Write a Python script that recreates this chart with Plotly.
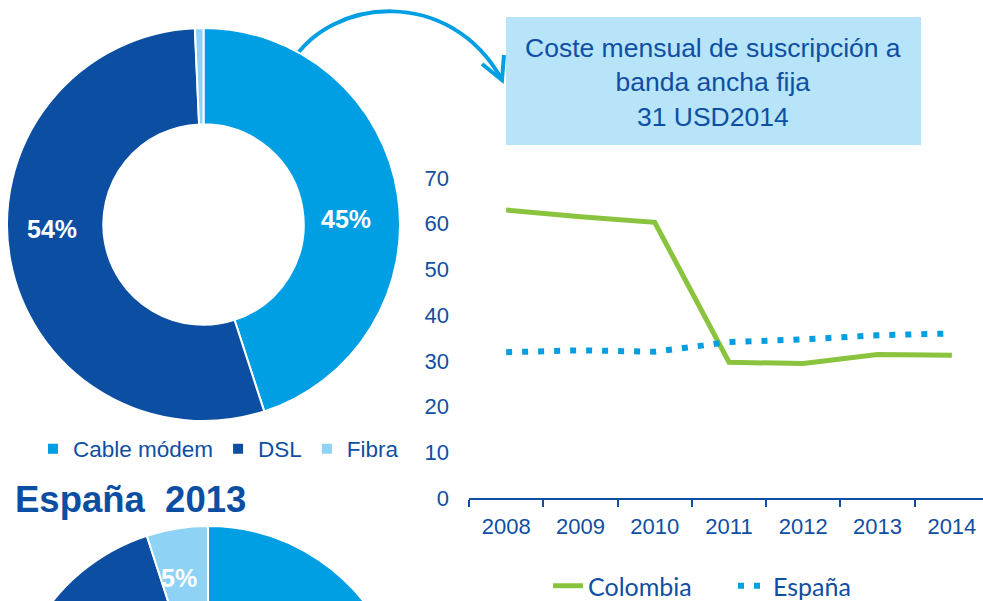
import plotly.graph_objects as go

# ---------------- data ----------------
donut_labels = ["Cable módem", "DSL", "Fibra"]
colombia_share = [45.0, 54.3, 0.7]
espana_share = [19.0, 76.0, 5.0]

years = ["2008", "2009", "2010", "2011", "2012", "2013", "2014"]
colombia_cost = [63.0, 61.5, 60.3, 29.7, 29.4, 31.4, 31.2]
espana_cost = [31.9, 32.3, 32.0, 34.1, 34.7, 35.6, 36.0]
y_ticks = [0, 10, 20, 30, 40, 50, 60, 70]

box_lines = ["Coste mensual de suscripción a", "banda ancha fija", "31 USD2014"]
spain_title = "España\u00a0 2013"

# ---------------- styles ----------------
W, H = 983, 930          # canvas; the window shows the top 601 px
slice_colors = ["#009FE3", "#0B4EA2", "#8ED3F5"]
dark = "#0F4FA3"
green = "#8AC43F"
blue = "#009FE3"
box_fill = "#B7E4F8"


def fx(px):
    return px / W


def fy(py):
    return 1 - py / H


fig = go.Figure()

# Colombia donut
fig.add_trace(go.Pie(
    labels=donut_labels, values=colombia_share, hole=0.51,
    sort=False, direction="clockwise", rotation=0,
    marker=dict(colors=slice_colors, line=dict(color="white", width=2)),
    textinfo="none", hoverinfo="label+percent",
    domain=dict(x=[fx(7), fx(400)], y=[fy(421), fy(28)]),
    legend="legend",
))

# España donut (mostly below the visible window)
fig.add_trace(go.Pie(
    labels=donut_labels, values=espana_share, hole=0.51,
    sort=False, direction="clockwise", rotation=0,
    marker=dict(colors=slice_colors, line=dict(color="white", width=2)),
    textinfo="none", hoverinfo="label+percent",
    domain=dict(x=[fx(10), fx(406)], y=[fy(922), fy(526)]),
    legend="legend", showlegend=False,
))

# line chart
fig.add_trace(go.Scatter(
    x=years, y=colombia_cost, mode="lines", name="Colombia",
    line=dict(color=green, width=5), legend="legend2",
))
fig.add_trace(go.Scatter(
    x=years, y=espana_cost, mode="lines", name="España",
    line=dict(color=blue, width=6, dash="6px,10px"), legend="legend2",
))

n = len(years)
fig.update_layout(
    width=W, height=H,
    margin=dict(l=0, r=0, t=0, b=0, autoexpand=False),
    paper_bgcolor="white", plot_bgcolor="white",
    font=dict(family="Arial, Liberation Sans, sans-serif", color=dark),
    xaxis=dict(
        domain=[fx(469), 1], type="category", categoryarray=years,
        range=[-0.5, n - 0.5 - 6 / 74.25],
        showline=True, linecolor=dark, linewidth=2,
        ticks="outside", tickson="boundaries", ticklen=7, tickwidth=2, tickcolor=dark,
        showgrid=False, zeroline=False, automargin=False,
        ticklabelstandoff=8,
        tickfont=dict(size=22, color=dark),
    ),
    yaxis=dict(
        domain=[fy(498), fy(178)], range=[0, 70], tickvals=y_ticks,
        showgrid=False, zeroline=False, showline=False, ticks="",
        ticklabelstandoff=19, automargin=False,
        tickfont=dict(size=22, color=dark),
    ),
    legend=dict(
        orientation="h", x=fx(33), xanchor="left", y=fy(449), yanchor="middle",
        font=dict(size=22.5, color=dark, family="Arial, Liberation Sans, sans-serif"),
        bgcolor="rgba(0,0,0,0)",
    ),
    legend2=dict(
        orientation="h", x=fx(548), xanchor="left", y=fy(586), yanchor="middle",
        font=dict(size=25, color=dark, family="Lato, Open Sans, sans-serif"),
        bgcolor="rgba(0,0,0,0)", entrywidth=140,
    ),
    showlegend=True,
)

# text box + curved arrow
fig.add_shape(type="rect", xref="paper", yref="paper",
              x0=fx(506), x1=fx(921), y0=fy(145), y1=fy(17),
              fillcolor=box_fill, line=dict(width=0), layer="below")
fig.add_shape(type="path", xref="paper", yref="paper", layer="below",
              path=(f"M{fx(292)},{fy(62)} C{fx(330)},{fy(-2)} "
                    f"{fx(450)},{fy(-15)} {fx(502)},{fy(80)}"),
              line=dict(color=blue, width=4))
fig.add_shape(type="path", xref="paper", yref="paper",
              path=(f"M{fx(482)},{fy(64)} L{fx(502)},{fy(80)} L{fx(504)},{fy(55)}"),
              line=dict(color=blue, width=4))

fig.add_annotation(xref="paper", yref="paper", x=fx(713), y=fy(83),
                   xanchor="center", yanchor="middle",
                   text="<br>".join(box_lines), showarrow=False,
                   font=dict(size=26.5, color=dark), align="center")

fig.add_annotation(xref="paper", yref="paper", x=fx(13), y=fy(500),
                   xanchor="left", yanchor="middle", text=f"<b>{spain_title}</b>",
                   showarrow=False, font=dict(size=36.5, color="#0B4EA2"))

# percentage labels of the donuts
pct_font = dict(size=25, color="white")
for px_, py_, val in [(346, 219, colombia_share[0]), (52, 229, colombia_share[1]),
                      (179, 578, espana_share[2])]:
    fig.add_annotation(xref="paper", yref="paper", x=fx(px_), y=fy(py_),
                       xanchor="center", yanchor="middle",
                       text=f"<b>{round(val)}%</b>", showarrow=False, font=pct_font)

fig.write_html("out.html", config={"displayModeBar": False},
               post_script="document.body.style.margin='0';document.body.style.overflow='hidden';")
